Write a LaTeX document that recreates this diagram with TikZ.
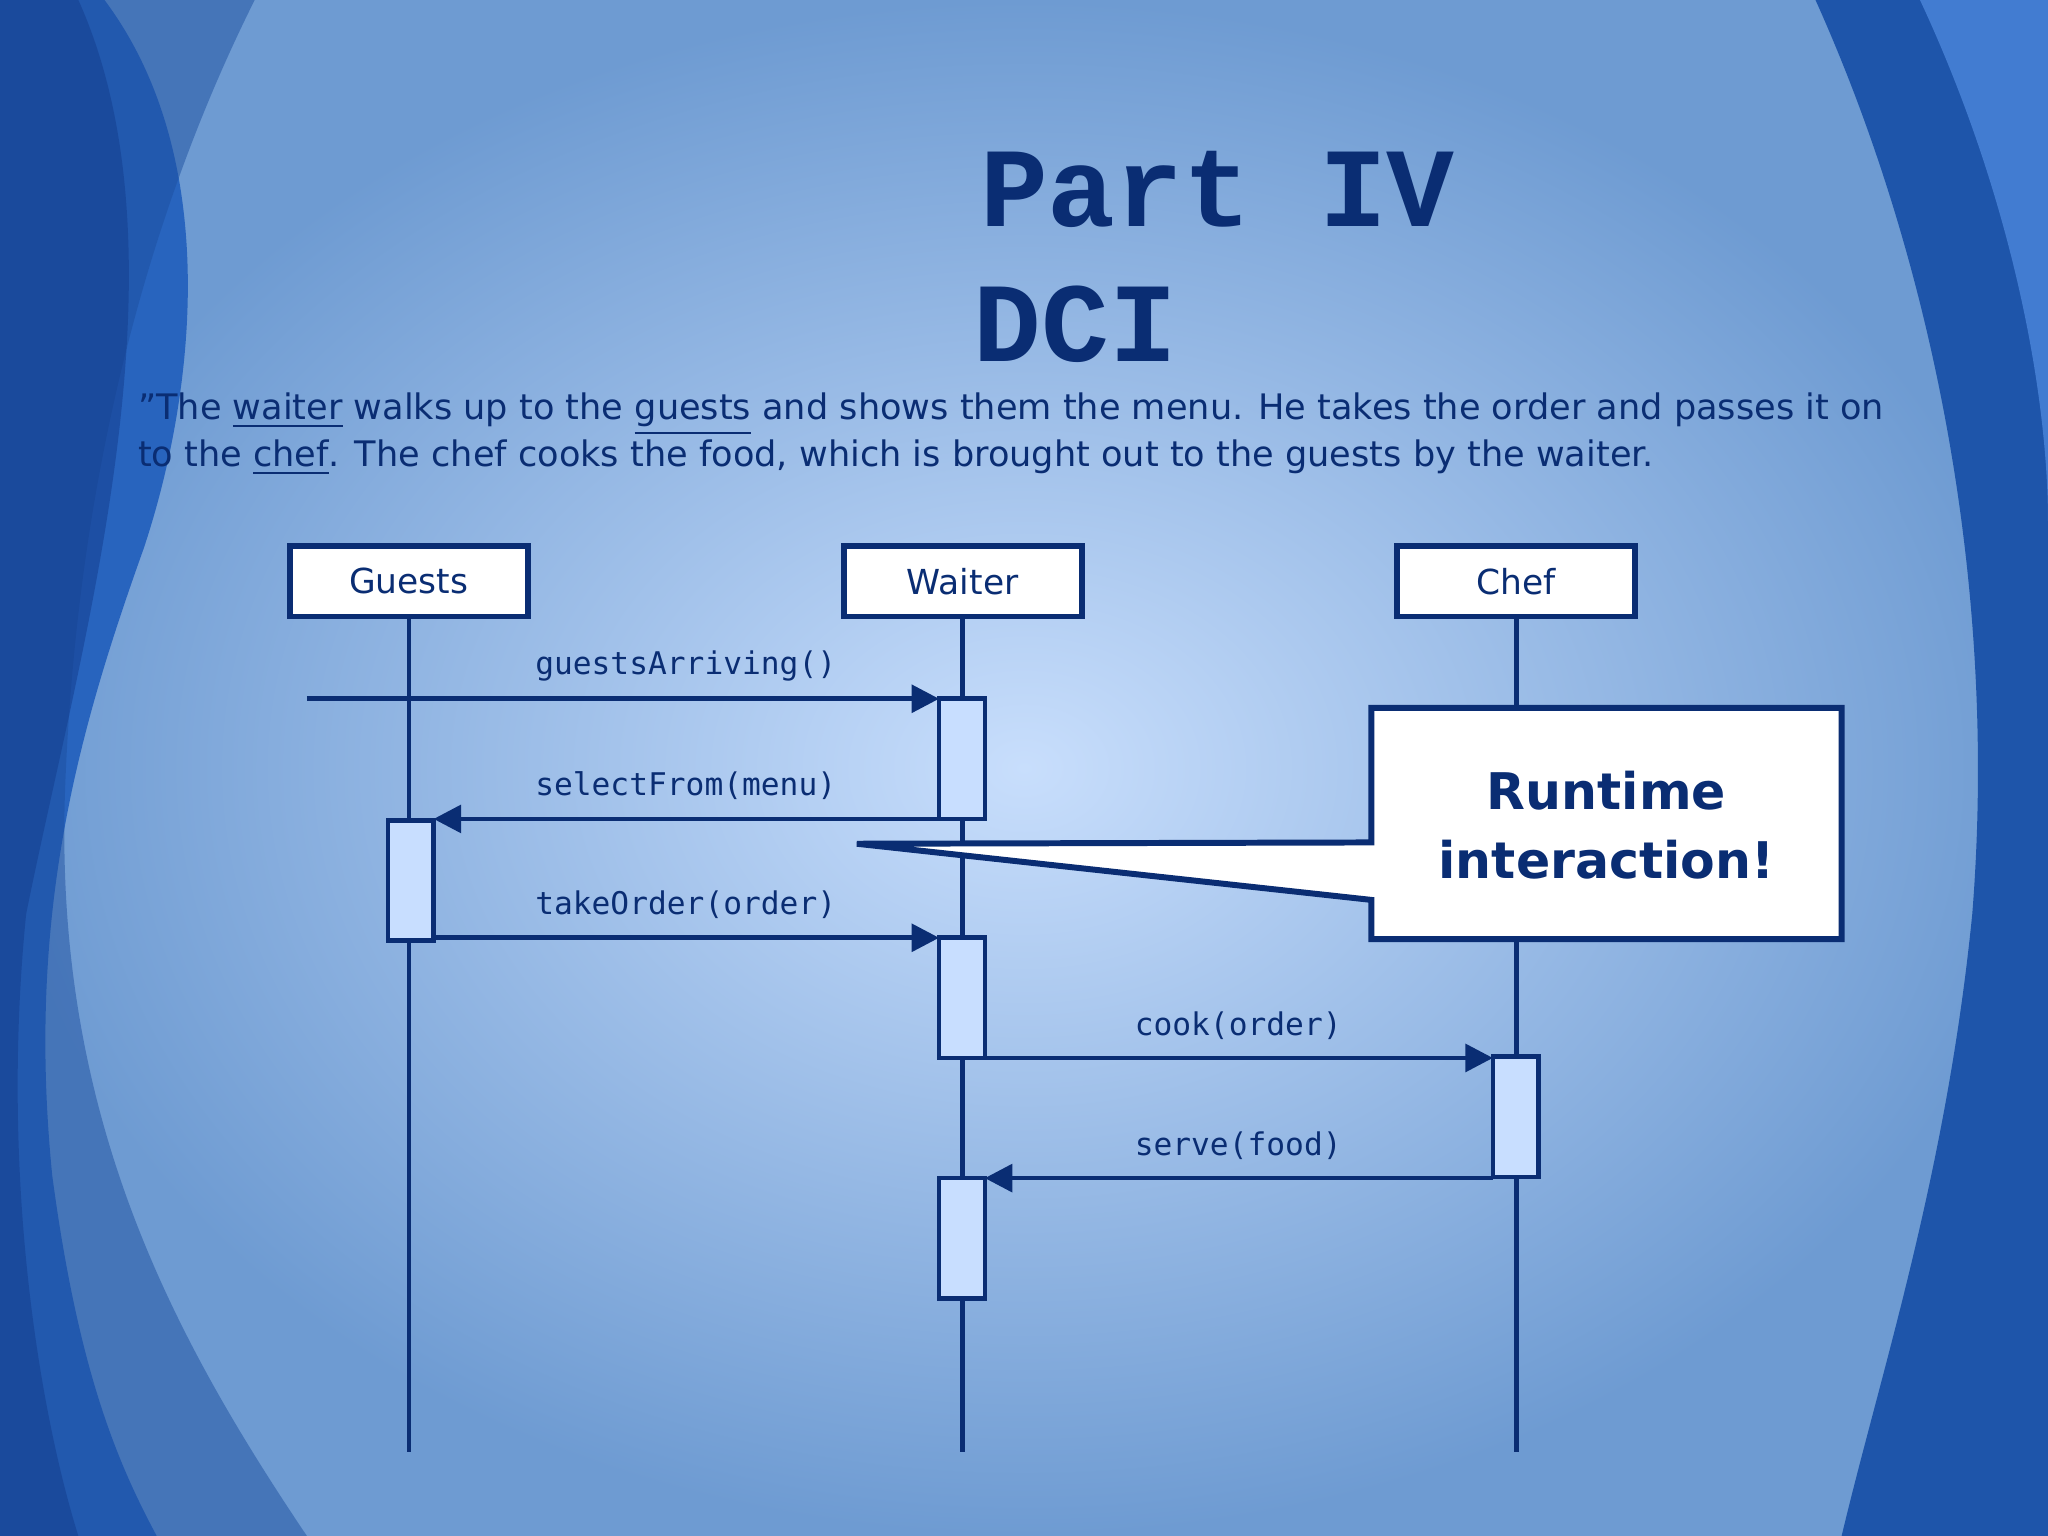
\documentclass[tikz,border=0pt]{standalone}
\usepackage{fontspec}
\setmainfont{DejaVu Sans}
\newfontfamily\monof{DejaVu Sans Mono}
\newfontfamily\titlef{Liberation Mono}
\usetikzlibrary{arrows.meta}
\definecolor{ink}{RGB}{10,45,115}
\definecolor{act}{RGB}{200,222,255}
\definecolor{bgin}{RGB}{200,222,252}
\definecolor{bgout}{RGB}{110,155,210}
\definecolor{wa}{RGB}{40,100,190}
\definecolor{wb}{RGB}{30,80,160}
\definecolor{wc}{RGB}{20,60,140}
\definecolor{wd}{RGB}{30,85,170}
\definecolor{we}{RGB}{90,150,235}
\begin{document}
\begin{tikzpicture}[x={(0.01cm,0)},y={(0,-0.01cm)},
  obj/.style={draw=ink,line width=1.3pt,fill=white,minimum width=1.82cm,minimum height=0.54cm,font=\fontsize{7.5}{9}\selectfont,text=ink,inner sep=0},
  life/.style={draw=ink,line width=1pt},
  actv/.style={draw=ink,line width=1pt,fill=act},
  msg/.style={draw=ink,line width=1pt,-{Triangle[length=6pt,width=6pt]}},
  lbl/.style={font=\monof\fontsize{6.8}{8}\selectfont,text=ink,anchor=south}]
\useasboundingbox (0,0) rectangle (1568,1176);
\shade[inner color=bgin,outer color=bgout] (0,0) rectangle (1568,1176);
% left waves
\fill[wa] (0,0) -- (80,0) .. controls (170,120) and (150,300) .. (110,420) .. controls (60,560) and (20,700) .. (40,900) .. controls (60,1050) and (90,1120) .. (120,1176) -- (0,1176) -- cycle;
\fill[wb,opacity=0.5] (0,0) -- (195,0) .. controls (120,150) and (60,350) .. (50,600) .. controls (40,850) and (130,1020) .. (235,1176) -- (0,1176) -- cycle;
\fill[wc,opacity=0.5] (0,0) -- (60,0) .. controls (150,200) and (60,500) .. (20,700) .. controls (0,900) and (30,1080) .. (60,1176) -- (0,1176) -- cycle;
% right wave
\fill[wd] (1390,0) .. controls (1480,200) and (1530,450) .. (1510,700) .. controls (1490,900) and (1440,1050) .. (1410,1176) -- (1568,1176) -- (1568,0) -- cycle;
\fill[we,opacity=0.6] (1470,0) .. controls (1540,150) and (1568,300) .. (1568,400) -- (1568,0) -- cycle;
% title
\node[anchor=west,font=\titlef\bfseries\fontsize{24.6}{25}\selectfont,text=ink] (t1) at (738,145) {Part IV};
\node[anchor=west,font=\titlef\bfseries\fontsize{24.6}{25}\selectfont,text=ink] (t2) at (733,248) {DCI};
\node[anchor=north west,align=left,inner sep=0,font=\fontsize{7.65}{10.2}\selectfont,text=ink] (para) at (105,300)
 {"The \underline{waiter} walks up to the \underline{guests} and shows them the menu. He takes the order and passes it on\\
 to the \underline{chef}. The chef cooks the food, which is brought out to the guests by the waiter.};
% lifelines
\draw[life] (313,472) -- (313,1112);
\draw[life] (737,472) -- (737,1112);
\draw[life] (1161,472) -- (1161,1112);
\node[obj] (g) at (313,445) {Guests};
\node[obj] (w) at (737,445) {Waiter};
\node[obj] (c) at (1161,445) {Chef};
% activations
\draw[actv] (719,535) rectangle (754,627);
\draw[actv] (297,628) rectangle (332,720);
\draw[actv] (719,718) rectangle (754,810);
\draw[actv] (1143,809) rectangle (1178,901);
\draw[actv] (719,902) rectangle (754,994);
% messages
\coordinate (s0) at (235,535);
\draw[msg] (s0) -- (719,535);
\node[lbl] at (525,534) {guestsArriving()};
\draw[msg] (719,627) -- (332,627);
\node[lbl] at (525,625) {selectFrom(menu)};
\draw[msg] (332,718) -- (719,718);
\node[lbl] at (525,716) {takeOrder(order)};
\draw[msg] (754,810) -- (1143,810);
\node[lbl] at (948,808) {cook(order)};
\draw[msg] (1143,902) -- (754,902);
\node[lbl] at (948,900) {serve(food)};
% callout
\coordinate (tip) at (656,646);
\draw[draw=ink,line width=1.3pt,fill=white] (1050,542) -- (1410,542) -- (1410,719) -- (1050,719) -- (1050,689) -- (tip) -- (1050,645) -- cycle;
\node[align=center,font=\bfseries\fontsize{11}{15}\selectfont,text=ink] (rt) at (1230,632) {Runtime\\interaction!};
\end{tikzpicture}
\end{document}
